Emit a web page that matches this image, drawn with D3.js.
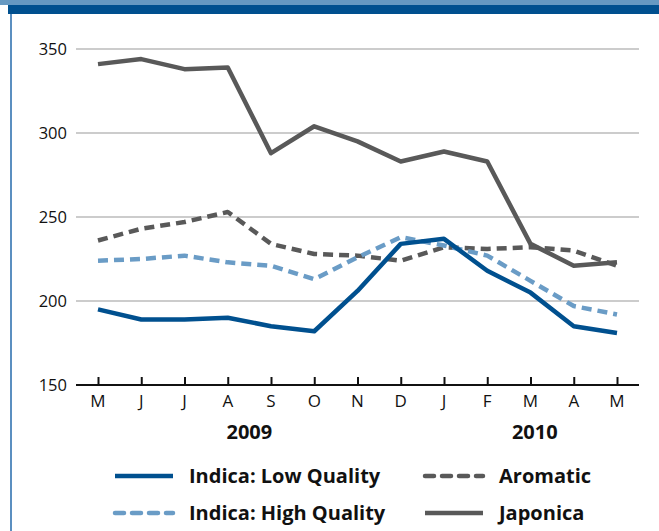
<!DOCTYPE html>
<html>
<head>
<meta charset="utf-8">
<script src="https://cdn.jsdelivr.net/npm/d3@7"></script>
<style>
  body { margin: 0; background: #fff; }
  text { font-family: "Open Sans", "Noto Sans", sans-serif; }
</style>
</head>
<body>
<svg id="chart" width="659" height="531"></svg>
<script>
// months May 2009 .. May 2010
var months = ["M", "J", "J", "A", "S", "O", "N", "D", "J", "F", "M", "A", "M"];
var yTicks = [150, 200, 250, 300, 350];
var japonica = [341, 344, 338, 339, 288, 304, 295, 283, 289, 283, 234, 221, 223];
var aromatic = [236, 243, 247, 253, 234, 228, 227, 224, 232, 231, 232, 230, 221];
var indicaHigh = [224, 225, 227, 223, 221, 213, 226, 238, 233, 227, 212, 197, 192];
var indicaLow = [195, 189, 189, 190, 185, 182, 206, 234, 237, 218, 205, 185, 181];
var years = [{ label: "2009", at: 3.5 }, { label: "2010", at: 10.1 }];

var series = [
  { name: "Indica: Low Quality", values: indicaLow, color: "#00508f", dash: null },
  { name: "Indica: High Quality", values: indicaHigh, color: "#6a9cc6", dash: "10,6" },
  { name: "Aromatic", values: aromatic, color: "#595959", dash: "10,6" },
  { name: "Japonica", values: japonica, color: "#595959", dash: null }
];

var svg = d3.select("#chart");

// header bars + left rule
svg.append("rect").attr("x", 0).attr("y", 0).attr("width", 659).attr("height", 5).attr("fill", "#6699c2");
svg.append("rect").attr("x", 8).attr("y", 5).attr("width", 651).attr("height", 9).attr("fill", "#00508f");
svg.append("rect").attr("x", 10).attr("y", 14).attr("width", 2).attr("height", 517).attr("fill", "#5b8fc0");

var x = d3.scalePoint().domain(d3.range(months.length)).range([98, 617]);
var y = d3.scaleLinear().domain([150, 350]).range([385, 49]);

// gridlines
svg.append("g").selectAll("line")
  .data(yTicks.filter(function (d) { return d > 150; }))
  .enter().append("line")
  .attr("x1", 76).attr("x2", 639)
  .attr("y1", function (d) { return y(d); }).attr("y2", function (d) { return y(d); })
  .attr("stroke", "#999").attr("stroke-width", 1);

// y labels
svg.append("g").selectAll("text")
  .data(yTicks)
  .enter().append("text")
  .attr("x", 67).attr("y", function (d) { return y(d); })
  .attr("dy", "0.35em").attr("text-anchor", "end")
  .attr("font-size", 16.5).attr("fill", "#111")
  .text(function (d) { return d; });

// x axis
var xAxis = d3.axisTop(x).tickSize(8).tickFormat("");
var gx = svg.append("g").attr("transform", "translate(0," + y(150) + ")").call(xAxis);
gx.select(".domain").remove();
gx.selectAll(".tick line").attr("stroke", "#111").attr("stroke-width", 2);
svg.append("line").attr("x1", 76).attr("x2", 639).attr("y1", y(150)).attr("y2", y(150))
  .attr("stroke", "#111").attr("stroke-width", 2);

svg.append("g").selectAll("text")
  .data(months)
  .enter().append("text")
  .attr("x", function (d, i) { return x(i); }).attr("y", 407)
  .attr("text-anchor", "middle").attr("font-size", 17).attr("fill", "#111")
  .text(function (d) { return d; });

svg.append("g").selectAll("text")
  .data(years)
  .enter().append("text")
  .attr("x", function (d) { return x(0) + d.at * (x(1) - x(0)); }).attr("y", 439)
  .attr("text-anchor", "middle").attr("font-size", 20).attr("font-weight", "bold").attr("fill", "#111")
  .text(function (d) { return d.label; });

// lines (draw japonica/aromatic first so blues sit on top like reference)
var line = d3.line().x(function (d, i) { return x(i); }).y(function (d) { return y(d); });
var drawOrder = [series[3], series[2], series[1], series[0]];
svg.append("g").selectAll("path")
  .data(drawOrder)
  .enter().append("path")
  .attr("d", function (d) { return line(d.values); })
  .attr("fill", "none")
  .attr("stroke", function (d) { return d.color; })
  .attr("stroke-width", 4.5)
  .attr("stroke-dasharray", function (d) { return d.dash; })
  .attr("stroke-linejoin", "round");

// legend
var legendPos = [
  { x: 115, y: 476 }, { x: 115, y: 513 }, { x: 425, y: 476 }, { x: 425, y: 513 }
];
var lg = svg.append("g").selectAll("g")
  .data(series)
  .enter().append("g")
  .attr("transform", function (d, i) { return "translate(" + legendPos[i].x + "," + legendPos[i].y + ")"; });
lg.append("line")
  .attr("x1", 0).attr("x2", 58).attr("y1", 0).attr("y2", 0)
  .attr("stroke", function (d) { return d.color; })
  .attr("stroke-width", 4.5)
  .attr("stroke-linecap", function (d) { return d.dash ? "round" : "butt"; })
  .attr("stroke-dasharray", function (d) { return d.dash ? "9,8" : null; });
lg.append("text")
  .attr("x", 74).attr("y", 0).attr("dy", "0.35em")
  .attr("font-size", 20).attr("font-weight", "bold").attr("fill", "#111")
  .text(function (d) { return d.name; });
</script>
</body>
</html>
